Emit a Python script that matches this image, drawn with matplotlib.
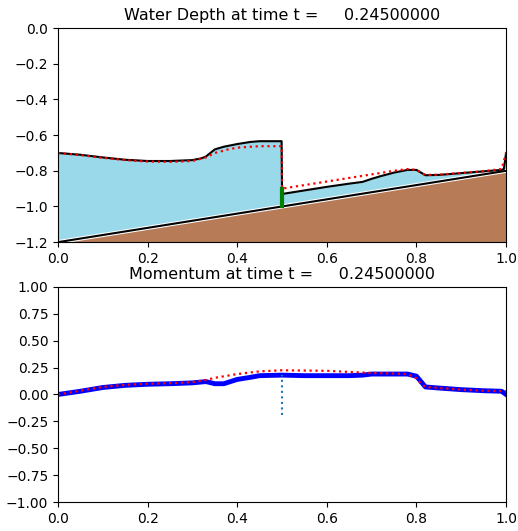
import numpy as np
import matplotlib.pyplot as plt

t = 0.245

# grid points and bed
x_bed = [0.0, 1.0]
bed = [-1.2, -0.8]

# free surface (computed)
x_eta = [0.0, 0.05, 0.1, 0.15, 0.2, 0.25, 0.3, 0.32, 0.33, 0.34, 0.35, 0.37, 0.4, 0.43, 0.45, 0.499,
         0.5, 0.55, 0.6, 0.65, 0.68, 0.7, 0.72, 0.75, 0.78, 0.8, 0.81, 0.82, 0.85, 0.9, 0.95, 0.99, 0.995, 1.0]
eta = [-0.70, -0.71, -0.725, -0.738, -0.745, -0.745, -0.74, -0.73, -0.72, -0.70, -0.68, -0.665, -0.65, -0.638, -0.634, -0.634,
       -0.93, -0.91, -0.89, -0.872, -0.862, -0.845, -0.83, -0.81, -0.795, -0.795, -0.81, -0.825, -0.823, -0.813, -0.803, -0.795, -0.79, -0.70]

# free surface (reference)
x_eta_ref = [0.0, 0.05, 0.1, 0.15, 0.2, 0.25, 0.3, 0.33, 0.35, 0.38, 0.4, 0.45, 0.499,
             0.5, 0.55, 0.6, 0.65, 0.7, 0.75, 0.78, 0.8, 0.81, 0.82, 0.85, 0.9, 0.95, 0.99, 1.0]
eta_ref = [-0.70, -0.712, -0.727, -0.74, -0.748, -0.75, -0.745, -0.725, -0.7, -0.68, -0.67, -0.662, -0.662,
           -0.90, -0.88, -0.86, -0.84, -0.82, -0.8, -0.79, -0.795, -0.81, -0.823, -0.822, -0.812, -0.802, -0.79, -0.70]

# momentum (computed)
x_hu = [0.0, 0.05, 0.1, 0.15, 0.2, 0.25, 0.3, 0.33, 0.35, 0.37, 0.4, 0.43, 0.45, 0.5, 0.55, 0.6, 0.65, 0.68, 0.7,
        0.75, 0.78, 0.8, 0.81, 0.82, 0.85, 0.9, 0.95, 0.99, 1.0]
hu = [0.0, 0.03, 0.065, 0.085, 0.095, 0.1, 0.108, 0.12, 0.10, 0.10, 0.14, 0.16, 0.175, 0.18, 0.175, 0.175, 0.175, 0.18, 0.19,
      0.19, 0.19, 0.17, 0.12, 0.07, 0.06, 0.045, 0.035, 0.03, 0.0]

# momentum (reference)
x_hu_ref = [0.0, 0.05, 0.1, 0.15, 0.2, 0.25, 0.3, 0.33, 0.35, 0.4, 0.45, 0.5, 0.6, 0.7, 0.75, 0.78, 0.8, 0.81, 0.82,
            0.85, 0.9, 0.95, 1.0]
hu_ref = [0.0, 0.035, 0.07, 0.09, 0.1, 0.105, 0.115, 0.135, 0.155, 0.19, 0.215, 0.225, 0.22, 0.2, 0.195, 0.19, 0.15, 0.1, 0.07,
          0.06, 0.045, 0.035, 0.03]

# interface marker at x = 0.5
x_gate = 0.5
gate_bot = [-1.0, -0.9]
gate_hu = [-0.19, 0.18]

xf = np.linspace(0, 1, 401)
bf = np.interp(xf, x_bed, bed)
ef = np.interp(xf, x_eta, eta)

fig = plt.figure(figsize=(5.18, 5.31), dpi=100)
ax1 = fig.add_axes([0.112, 0.544, 0.865, 0.403])
ax2 = fig.add_axes([0.112, 0.0546, 0.865, 0.405])

ax1.fill_between(xf, -1.2, bf, color='#b87b58', lw=0)
ax1.fill_between(xf, bf, ef, where=ef >= bf, color='#9ad9ea', lw=0)
ax1.plot(x_bed, bed, color='white', lw=3)
ax1.plot(x_bed, bed, 'k-', lw=1.5)
ax1.plot(x_eta, eta, 'k-', lw=1.5)
ax1.plot(x_eta_ref, eta_ref, 'r:', lw=1.6)
ax1.plot([x_gate, x_gate], gate_bot, 'g-', lw=3)
ax1.set_xlim(0, 1)
ax1.set_ylim(-1.2, 0)
ax1.set_title('Water Depth at time t = %14.8f' % t, fontsize=11.5)

ax2.plot(x_hu, hu, 'b-', lw=3.5)
ax2.plot(x_hu_ref, hu_ref, 'r:', lw=1.6)
ax2.plot([x_gate, x_gate], gate_hu, ':', color='tab:blue', lw=1.5)
ax2.set_xlim(0, 1)
ax2.set_ylim(-1, 1)
ax2.set_yticks(np.arange(-1, 1.01, 0.25))
ax2.set_title('Momentum at time t = %14.8f' % t, fontsize=11.5)

fig.savefig('out.png', dpi=100)
